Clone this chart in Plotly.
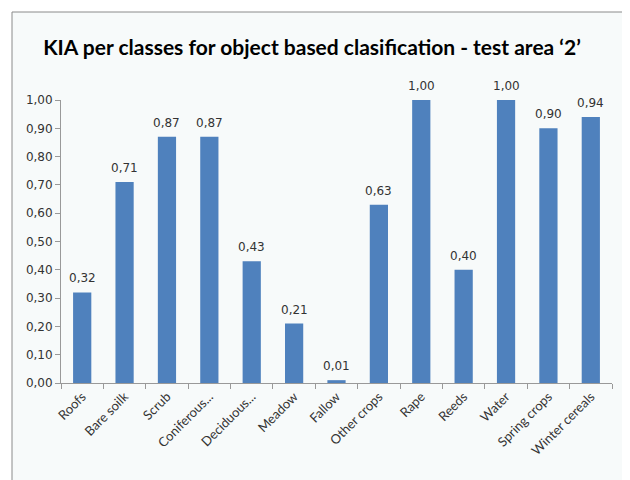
import plotly.graph_objects as go

categories = ["Roofs", "Bare soilk", "Scrub", "Coniferous...", "Deciduous...", "Meadow", "Fallow",
              "Other crops", "Rape", "Reeds", "Water", "Spring crops", "Winter cereals"]
kia = [0.32, 0.71, 0.87, 0.87, 0.43, 0.21, 0.01, 0.63, 1.00, 0.40, 1.00, 0.90, 0.94]
ytick_vals = [0, 0.1, 0.2, 0.3, 0.4, 0.5, 0.6, 0.7, 0.8, 0.9, 1.0]

# page body adds an 8px offset, so the figure is made smaller to avoid scrollbars
L, R, T, B = 53, 18, 92, 97
W, H = 622, 472
pw, ph = W - L - R, H - T - B

fig = go.Figure(
	data=[
		go.Bar(
			x=categories,
			y=kia,
			marker=dict(color="#4F81BD", line=dict(width=0)),
			width=0.43,
		)
	]
)

# value labels above the bars
for cat, v in zip(categories, kia):
	fig.add_annotation(
		x=cat, y=v, text=f"{v:.2f}".replace(".", ","),
		showarrow=False, yanchor="bottom", yshift=5,
		font=dict(family="DejaVu Sans", size=12, color="#333333"),
	)

# light framed background like the original slide
fig.add_shape(
	type="rect", xref="paper", yref="paper",
	x0=(4 - L) / pw, x1=(W + 20 - L) / pw, y0=-1, y1=1 + (T - 4) / ph,
	line=dict(color="#8a8a8a", width=1), fillcolor="#f7fafa", layer="below",
)

fig.update_layout(
	width=W, height=H,
	margin=dict(l=L, r=R, t=T, b=B, autoexpand=False),
	paper_bgcolor="white",
	plot_bgcolor="rgba(0,0,0,0)",
	separators=",.",
	showlegend=False,
	title=dict(
		text="<b>KIA per classes for object based clasification - test area \u20182\u2019</b>",
		x=304 / W, xanchor="center", y=1 - 40 / H, yanchor="middle",
		font=dict(family="Lato", size=21, color="black"),
	),
	bargap=0.57,
	xaxis=dict(
		automargin=False,
		showline=True, linecolor="#999999", linewidth=1,
		ticks="outside", ticklen=5, tickcolor="#999999", tickson="boundaries",
		tickangle=-45, tickfont=dict(family="Lato", size=13, color="#333333"),
		showgrid=False,
	),
	yaxis=dict(
		automargin=False,
		range=[0, 1.0], tickvals=ytick_vals, tickformat=".2f",
		showline=True, linecolor="#999999", linewidth=1,
		ticks="outside", ticklen=5, tickcolor="#999999",
		tickfont=dict(family="DejaVu Sans", size=12, color="#333333"),
		showgrid=False, zeroline=False,
	),
)

fig.write_html("out.html")
